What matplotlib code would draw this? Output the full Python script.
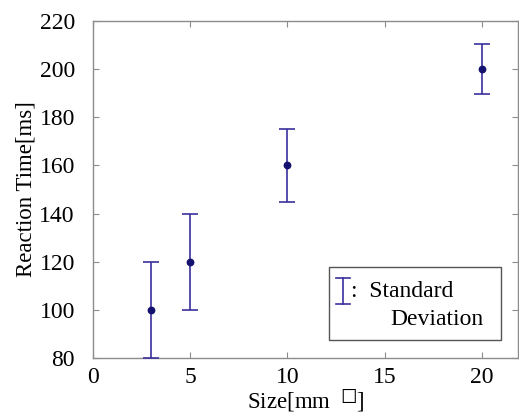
import matplotlib
matplotlib.use("Agg")
import matplotlib.pyplot as plt
from matplotlib.patches import Rectangle
from matplotlib.lines import Line2D

# target size and reaction time (mean, standard deviation)
size_mm = [3, 5, 10, 20]
reaction_ms = [100, 120, 160, 200]
std_ms = [20, 20, 15, 10.5]

x_ticks = [0, 5, 10, 15, 20]
y_ticks = [80, 100, 120, 140, 160, 180, 200, 220]

plt.rcParams['font.family'] = ['Liberation Serif', 'DejaVu Serif']
plt.rcParams['mathtext.fontset'] = 'stix'

bar_col = '#3a309c'
dot_col = '#14126e'
grey = '#8c8c8c'

fig = plt.figure(figsize=(5.19, 4.16), dpi=100)
ax = fig.add_axes([0.179, 0.139, 0.819, 0.811])

ax.errorbar(size_mm, reaction_ms, yerr=std_ms, fmt='o', color=dot_col,
            ecolor=bar_col, elinewidth=1.2, capsize=5.5, capthick=1.2,
            markersize=4.6, zorder=3)

ax.set_xlim(0, 21.85)
ax.set_ylim(80, 220)
ax.set_xticks(x_ticks)
ax.set_yticks(y_ticks)
ax.tick_params(direction='in', length=4, width=0.8, color=grey,
               labelsize=17, top=True, right=True)
ax.tick_params(axis='x', pad=6)
ax.tick_params(axis='y', pad=13)
for sp in ax.spines.values():
    sp.set_color(grey)
    sp.set_linewidth(1.0)

ax.set_xlabel("Size[mm  $^{\u25a1}$]", fontsize=16.5, labelpad=0)
ax.set_ylabel("Reaction Time[ms]", fontsize=16.5, labelpad=2)

# hand-made legend box
ax.add_patch(Rectangle((0.555, 0.053), 0.405, 0.217, transform=ax.transAxes,
                       facecolor='white', edgecolor='#555555', lw=1.0, zorder=4))
lx = 0.588
ax.add_line(Line2D([lx, lx], [0.16, 0.238], transform=ax.transAxes,
                   color=bar_col, lw=1.2, zorder=5))
for yy in (0.16, 0.238):
    ax.add_line(Line2D([lx - 0.017, lx + 0.017], [yy, yy], transform=ax.transAxes,
                       color=bar_col, lw=1.2, zorder=5))
ax.text(0.608, 0.199, ":  Standard", transform=ax.transAxes, fontsize=17,
        va='center', ha='left', zorder=5)
ax.text(0.7, 0.115, "Deviation", transform=ax.transAxes, fontsize=17,
        va='center', ha='left', zorder=5)

fig.savefig("out.png", dpi=100)
